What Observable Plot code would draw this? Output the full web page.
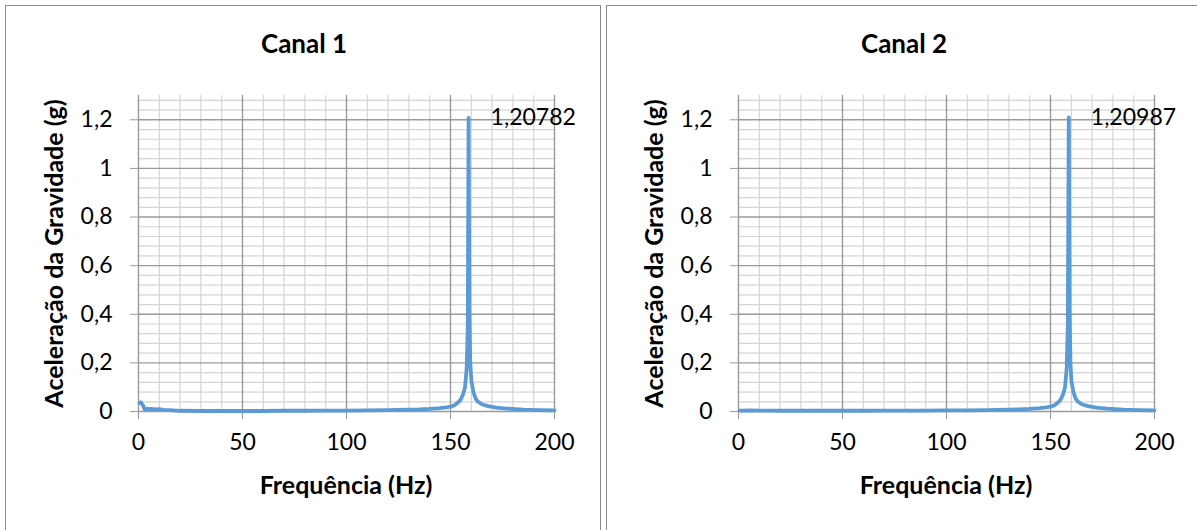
<!DOCTYPE html>
<html>
<head>
<meta charset="utf-8">
<script src="https://cdn.jsdelivr.net/npm/d3@7"></script>
<script src="https://cdn.jsdelivr.net/npm/@observablehq/plot@0.6"></script>
<style>
  html, body { margin: 0; padding: 0; background: #fff; }
  body { width: 1197px; height: 530px; position: relative; overflow: hidden; font-family: Lato, "Open Sans", sans-serif; }
  .panel { position: absolute; top: 5px; width: 596px; height: 560px; border: 1.5px solid #8c8c8c; box-sizing: border-box; }
  .title { position: absolute; text-align: center; font-weight: bold; color: #000; line-height: 1; white-space: nowrap; }
  .plot { position: absolute; top: 0; }
</style>
</head>
<body>
<script>
// ---- data ----
const freq1 = [0.5, 1, 2, 3, 4, 5, 6, 8, 10, 12, 15, 20, 30, 40, 50, 60, 70, 80, 90, 100, 110, 120, 130, 135, 140, 145, 148, 150, 152, 154, 155, 156, 157, 157.8, 158.3, 158.7, 159.1, 159.5, 160, 161, 162, 163, 165, 168, 172, 177, 185, 192, 200];
const amp1  = [0.035, 0.038, 0.028, 0.008, 0.012, 0.010, 0.011, 0.009, 0.010, 0.007, 0.006, 0.003, 0.002, 0.002, 0.002, 0.002, 0.003, 0.003, 0.004, 0.004, 0.005, 0.006, 0.008, 0.009, 0.011, 0.014, 0.017, 0.020, 0.026, 0.040, 0.050, 0.070, 0.100, 0.180, 0.350, 1.20782, 0.400, 0.200, 0.130, 0.080, 0.055, 0.042, 0.030, 0.022, 0.016, 0.012, 0.008, 0.006, 0.005];

const freq2 = [0.5, 2, 5, 10, 15, 20, 30, 40, 50, 60, 70, 80, 90, 100, 110, 120, 130, 135, 140, 145, 148, 150, 152, 154, 155, 156, 157, 157.8, 158.3, 158.8, 159.2, 159.6, 160, 161, 162, 163, 165, 168, 172, 177, 185, 192, 200];
const amp2  = [0.004, 0.004, 0.005, 0.004, 0.004, 0.003, 0.003, 0.004, 0.003, 0.003, 0.004, 0.004, 0.004, 0.005, 0.005, 0.006, 0.008, 0.009, 0.011, 0.014, 0.017, 0.020, 0.026, 0.040, 0.050, 0.070, 0.100, 0.180, 0.350, 1.20987, 0.400, 0.200, 0.130, 0.080, 0.055, 0.042, 0.030, 0.022, 0.016, 0.012, 0.008, 0.006, 0.005];

const peaks = [
  {f: 158.7, v: 1.20782, label: "1,20782"},
  {f: 158.8, v: 1.20987, label: "1,20987"}
];
const titles = ["Canal 1", "Canal 2"];
const xLabel = "Frequência (Hz)";
const yLabel = "Aceleração da Gravidade (g)";
const xTicks = [0, 50, 100, 150, 200];
const yTicks = [0, 0.2, 0.4, 0.6, 0.8, 1, 1.2];
const xMinor = [10, 20, 30, 40, 60, 70, 80, 90, 110, 120, 130, 140, 160, 170, 180, 190];
const yMinor = [0.04, 0.08, 0.12, 0.16, 0.24, 0.28, 0.32, 0.36, 0.44, 0.48, 0.52, 0.56, 0.64, 0.68, 0.72, 0.76, 0.84, 0.88, 0.92, 0.96, 1.04, 1.08, 1.12, 1.16, 1.24, 1.28];

const series = [
  freq1.map((f, i) => ({f, v: amp1[i]})),
  freq2.map((f, i) => ({f, v: amp2[i]}))
];

const majorColor = "#9a9a9a";
const minorColor = "#d4d4d4";
const lineColor = "#5b9bd5";
const fmt = d => String(d).replace(".", ",");

function el(tag, cls, style, text) {
  const e = document.createElement(tag);
  if (cls) e.className = cls;
  Object.assign(e.style, style);
  if (text != null) e.textContent = text;
  document.body.appendChild(e);
  return e;
}

[0, 1].forEach(k => {
  const off = k * 600;
  el("div", "panel", {left: (5 + off + (k ? 1 : 0)) + "px"});

  const chart = Plot.plot({
    width: 600,
    height: 530,
    marginLeft: 138,
    marginRight: 46,
    marginTop: 95,
    marginBottom: 119,
    x: {domain: [0, 200]},
    y: {domain: [0, 1.3]},
    style: {fontFamily: "Lato, 'Open Sans', sans-serif", fontSize: "23px", color: "#000", background: "transparent", overflow: "visible"},
    marks: [
      Plot.ruleX(xMinor, {stroke: minorColor, strokeWidth: 1.2}),
      Plot.ruleY(yMinor, {stroke: minorColor, strokeWidth: 1.2}),
      Plot.ruleX(xTicks, {stroke: majorColor, strokeWidth: 1.4}),
      Plot.ruleY(yTicks, {stroke: majorColor, strokeWidth: 1.4}),
      Plot.axisX({ticks: xTicks, tickSize: 8, tickPadding: 14, stroke: majorColor, fill: "#000", tickFormat: fmt, label: null}),
      Plot.axisY({ticks: yTicks, tickSize: 8, tickPadding: 18, stroke: majorColor, fill: "#000", tickFormat: fmt, label: null}),
      Plot.line(series[k], {x: "f", y: "v", stroke: lineColor, strokeWidth: 3.8, strokeLinejoin: "round", strokeLinecap: "round"}),
      Plot.text([peaks[k]], {x: "f", y: "v", text: "label", textAnchor: "start", dx: 22, fill: "#000"})
    ]
  });
  chart.classList.add("plot");
  chart.style.left = off + "px";
  document.body.appendChild(chart);

  // title
  el("div", "title", {left: (5 + off) + "px", width: "598px", top: "30px", fontSize: "26px"}, titles[k]);
  // x label
  el("div", "title", {left: (138 + off) + "px", width: "416px", top: "472px", fontSize: "25px"}, xLabel);
  // y label (rotated)
  el("div", "title", {left: (53 + off - 200) + "px", width: "400px", top: (253 - 12.5) + "px", fontSize: "25px", transform: "rotate(-90deg)", transformOrigin: "50% 50%"}, yLabel);
});
</script>
</body>
</html>
